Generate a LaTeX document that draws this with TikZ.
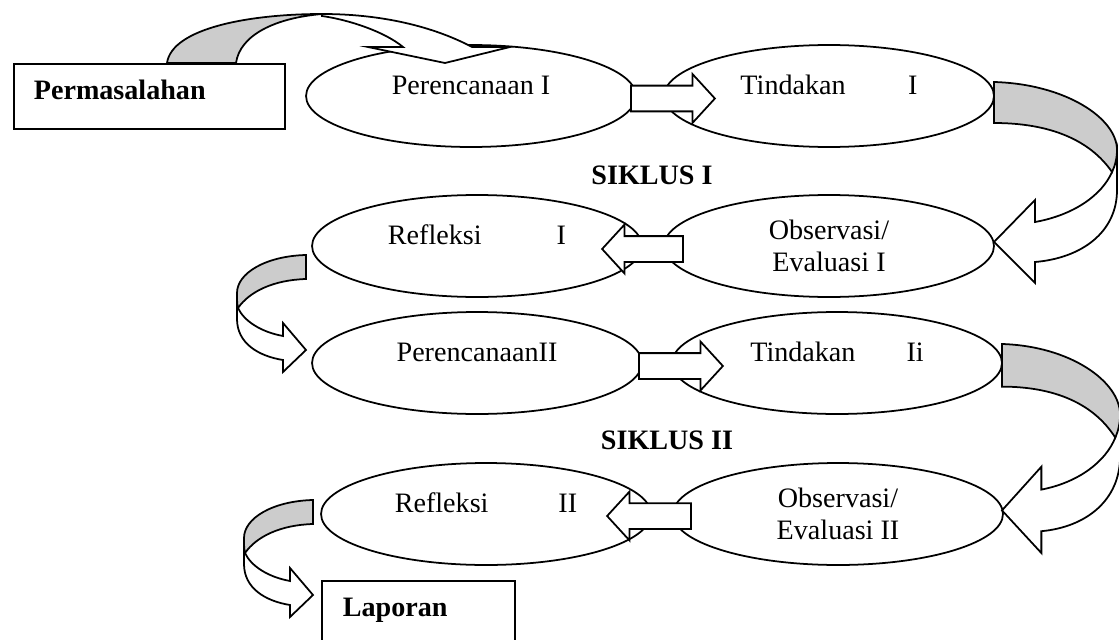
\documentclass[tikz,border=0pt]{standalone}
\usepackage{fontspec}
\setmainfont{Liberation Serif}
\usetikzlibrary{shapes.geometric,shapes.arrows}
\definecolor{abu}{gray}{0.8}

\begin{document}
\begin{tikzpicture}[x=0.02cm, y=-0.02cm, line width=1pt,
  every node/.style={font=\fontsize{16pt}{18.5pt}\selectfont}]
\tikzset{
  tahap/.style={ellipse, draw, fill=white, align=center, minimum width=6.6cm, minimum height=2.04cm, inner sep=0pt},
  satubaris/.style={text height=0.4cm, text depth=0.48cm},
  kotak/.style={rectangle, draw, fill=white, anchor=north west, align=left, minimum height=1.3cm, inner xsep=0.4cm, text height=0.4cm, text depth=0.26cm},
  panah/.style={single arrow, draw, fill=white, minimum height=1.68cm, inner xsep=0pt, inner ysep=0.24cm, single arrow head extend=0.23cm, single arrow tip angle=95},
  putarkanan/.pic={
    \filldraw[fill=white] (123,68) -- (123,108) .. controls (123,150) and (88,176) .. (41,180) -- (41,201) -- (0,160) -- (41,118) -- (41,140) .. controls (80,133) and (108,113) .. (118,90) -- cycle;
    \filldraw[fill=abu] (0,0) .. controls (71,2) and (123,36) .. (123,68) .. controls (123,76) and (121,84) .. (118,90) .. controls (96,58) and (56,41) .. (0,41) -- cycle;
  },
  putarkiri/.pic={
    \filldraw[fill=white] (-69,38) -- (-69,64) .. controls (-69,88) and (-48,101) .. (-23,105) -- (-23,117) -- (0,95) -- (-23,68) -- (-23,81) .. controls (-45,77) and (-62,66) .. (-68,53) -- cycle;
    \filldraw[fill=abu] (0,0) .. controls (-40,1) and (-69,18) .. (-69,38) .. controls (-69,44) and (-69,49) .. (-68,53) .. controls (-56,36) and (-32,25) .. (0,24) -- cycle;
  }
}
\clip (0,0) rectangle (1119,639);

% kotak awal dan akhir
\node[kotak, text width=4.62cm] (masalah) at (13,63) {\textbf{Permasalahan}};
\node[kotak, text width=3.02cm, inner xsep=0.42cm] (laporan) at (321,580) {\textbf{Laporan}};

% siklus I
\node[tahap, satubaris] (ren1) at (471,96) {Perencanaan I};
\node[tahap, satubaris] (tin1) at (829,96) {Tindakan\hspace{1.25cm}I};
\node[tahap, satubaris] (ref1) at (477,246) {Refleksi\hspace{1.5cm}I};
\node[tahap] (obs1) at (829,246) {Observasi/\\Evaluasi I};
\node (siklus1) at (652,175) {\textbf{SIKLUS I}};

% siklus II
\node[tahap, satubaris] (ren2) at (477,363) {PerencanaanII};
\node[tahap, satubaris] (tin2) at (837,363) {Tindakan\hspace{1.02cm}Ii};
\node[tahap, satubaris] (ref2) at (486,514) {Refleksi\hspace{1.4cm}II};
\node[tahap] (obs2) at (838,514) {Observasi/\\Evaluasi II};
\node (siklus2) at (667,440) {\textbf{SIKLUS II}};

% panah lurus
\node[panah] (p1) at (667,98.5) {};
\node[panah, shape border rotate=180, minimum height=1.62cm] (p2) at (648.5,249) {};
\node[panah] (p3) at (675,366) {};
\node[panah, shape border rotate=180] (p4) at (655,516) {};

% panah lengkung
\filldraw[fill=white] (322,14) .. controls (390,14) and (440,30) .. (472,47) -- (510,47) -- (445,63) -- (368,47) -- (403,47) .. controls (385,32) and (350,20) .. (322,16) -- cycle;
\filldraw[fill=abu] (167,63) .. controls (172,28) and (250,14) .. (322,14) .. controls (275,18) and (240,35) .. (236,63) -- cycle;
\pic at (994,82) {putarkanan};
\pic[xscale=0.96, yscale=1.04] at (1002,344) {putarkanan};
\pic at (306,255) {putarkiri};
\pic at (313,500) {putarkiri};
\end{tikzpicture}
\end{document}
